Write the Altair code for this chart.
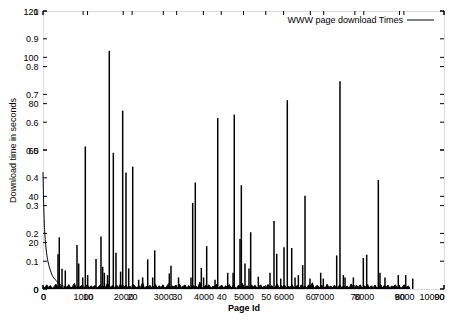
import altair as alt
import pandas as pd

# ---------------- data ----------------
# dense low-level download times (seconds), one reading every 46 page ids
baseline_step = 46
baseline_vals = [
    1.2, 0.4, 1.8, 0.7, 1.5, 0.3, 1.0, 2.1, 0.5, 1.6, 0.9, 0.3, 1.3, 0.6, 1.9, 0.4, 1.1, 2.4, 0.5, 1.2,
    0.8, 1.6, 0.3, 1.0, 1.9, 0.4, 1.4, 0.7, 1.5, 0.3, 0.9, 1.8, 0.5, 1.3, 0.8, 2.6, 0.4, 1.1, 1.5, 0.3,
    1.6, 0.6, 2.2, 0.4, 0.9, 1.7, 0.5, 1.3, 0.3, 1.9, 1.0, 0.5, 1.5, 0.7, 2.8, 0.3, 1.2, 0.8, 1.6, 0.4,
    1.1, 1.9, 0.4, 1.4, 0.6, 1.8, 0.3, 1.0, 2.3, 0.5, 1.3, 0.9, 1.6, 0.3, 2.0, 0.7, 1.2, 1.7, 0.4, 1.5,
    0.4, 1.8, 0.9, 1.3, 0.5, 3.0, 0.7, 0.3, 1.5, 1.1, 1.8, 0.4, 1.2, 0.8, 2.1, 0.5, 1.0, 1.6, 0.3, 1.4,
    0.7, 1.9, 0.4, 1.5, 1.0, 0.3, 1.7, 0.6, 2.5, 0.4, 1.2, 1.3, 0.5, 1.8, 0.9, 1.6, 0.3, 1.0, 1.8, 0.5,
    1.3, 0.4, 2.0, 0.7, 1.5, 0.3, 1.1, 2.2, 0.4, 1.4, 0.9, 1.7, 0.4, 1.2, 0.7, 1.9, 0.5, 1.0, 1.6, 0.3,
    1.8, 0.8, 1.3, 0.4, 1.8, 0.6, 2.7, 0.3, 1.2, 1.5, 0.5, 1.7, 0.9, 0.4, 2.1, 0.7, 1.3, 0.5, 1.7, 0.3,
    1.0, 1.8, 0.4, 1.5, 0.7, 1.3, 0.3, 2.2, 1.1, 0.5, 1.6, 0.8, 1.8, 0.4, 1.2, 0.9, 1.9, 0.4, 1.4, 0.6,
    1.7, 0.3, 1.2, 2.0, 0.5, 1.5, 0.7, 1.7, 0.4, 1.3, 1.0, 1.8, 0.5, 1.5, 0.3, 1.1, 1.8, 0.7, 1.3, 0.4,
]
baseline_ids = [i * baseline_step for i in range(len(baseline_vals))]

# isolated spikes: page id and download time (seconds)
spike_ids = [374, 406, 474, 556, 848, 890, 990, 1055, 1114, 1322, 1446, 1488, 1530, 1610, 1653,
             1754, 1820, 1935, 1987, 2070, 2137, 2237, 2385, 2485, 2611, 2735, 2786, 3150, 3192,
             3380, 3690, 3733, 3798, 3948, 4005, 4082, 4290, 4357, 4606, 4740, 4770, 4913, 4946,
             5037, 5137, 5179, 5369, 5661, 5761, 5828, 5928, 6010, 6092, 6202, 6285, 6368, 6476,
             6534, 6658, 6925, 6990, 7324, 7406, 7490, 7532, 7740, 7988, 8072, 8362, 8404, 8528,
             8860, 9045, 9220]
spike_vals = [15, 22.3, 8.7, 8, 19, 11, 5, 61.5, 6, 13, 22.7, 9.6, 7, 6, 102.8,
              58.8, 15.7, 7.5, 77, 50.3, 8.9, 52.8, 4, 5, 12.8, 5, 16.7, 6.7, 10,
              5, 5, 37.2, 46, 9.1, 5, 18.5, 4, 73.8, 7, 7, 75.3, 21.6, 44.8,
              11, 8.9, 24.5, 5.3, 7, 29.4, 15.2, 4.5, 18, 81.5, 17.7, 5, 6, 10.3,
              40.3, 4.5, 7, 4.5, 14.5, 89.7, 6, 5, 5, 13.4, 14.8, 47.1, 7, 5,
              6, 6, 4.5]

# second curve (secondary axes 0-90 / 0-1)
curve_x = [0, 0.1, 0.2, 0.3, 0.4, 0.6, 0.8, 1.1, 1.4, 1.8, 2.4, 3.0, 3.8, 4.6, 5.5, 7.0]
curve_y = [0.42, 0.34, 0.28, 0.23, 0.20, 0.16, 0.13, 0.10, 0.08, 0.06, 0.04, 0.03, 0.016, 0.01, 0.006, 0.003]

x_ticks = [0, 1000, 2000, 3000, 4000, 5000, 6000, 7000, 8000, 9000, 10000]
x2_ticks = [0, 10, 20, 30, 40, 50, 60, 70, 80, 90]
y_ticks = [0, 20, 40, 60, 80, 100, 120]
y2_ticks = [0, 0.1, 0.2, 0.3, 0.4, 0.5, 0.6, 0.7, 0.8, 0.9, 1]

legend_label = "WWW page download Times"

# ---------------- chart ----------------
W, H = 401, 278
FONT = "Liberation Sans"
FS = 9
TL = 4  # inward tick length

xs = alt.Scale(domain=[0, 10000], nice=False, zero=False)
ys = alt.Scale(domain=[0, 120], nice=False)
x2s = alt.Scale(domain=[0, 90], nice=False, zero=False)
y2s = alt.Scale(domain=[0, 1], nice=False)

lab = dict(labelFont=FONT, labelFontSize=FS, labelColor="black", ticks=False,
           domain=False, grid=False, labelFlush=False, labelOverlap=False)

base_df = pd.DataFrame({"id": baseline_ids, "t": baseline_vals})
spk_df = pd.DataFrame({"id": spike_ids, "t": spike_vals, "z": [0] * len(spike_ids)})
cur_df = pd.DataFrame({"x": curve_x, "y": curve_y})

# the last x label sits at the right edge of the page: keep it inside the picture
edge_align_x = alt.expr("datum.value == 10000 ? 'right' : 'center'")
edge_align_x2 = alt.expr("datum.value == 90 ? 'right' : 'center'")

band = alt.Chart(base_df).mark_area(color="black", opacity=1).encode(
    x=alt.X("id:Q", scale=xs, axis=alt.Axis(orient="bottom", values=x_ticks, format="d",
                                              labelPadding=3, labelAlign=edge_align_x,
                                              title="Page Id", titleFont=FONT,
                                              titleFontSize=FS, titleFontWeight="bold",
                                              titlePadding=2, **lab)),
    y=alt.Y("t:Q", scale=ys, axis=alt.Axis(orient="left", values=y_ticks, format="d",
                                             labelPadding=5, title="Download time in seconds",
                                             titleFont=FONT, titleFontSize=FS,
                                             titleFontWeight="normal", titlePadding=5, **lab)),
)
band_line = alt.Chart(base_df).mark_line(color="black", strokeWidth=1).encode(
    x=alt.X("id:Q", scale=xs, axis=None),
    y=alt.Y("t:Q", scale=ys, axis=None),
)

spikes = alt.Chart(spk_df).mark_rule(color="black", strokeWidth=1.5).encode(
    x=alt.X("id:Q", scale=xs, axis=None),
    y=alt.Y("z:Q", scale=ys, axis=None),
    y2="t:Q",
)

curve = alt.Chart(cur_df).mark_line(color="black", strokeWidth=1, interpolate="monotone").encode(
    x=alt.X("x:Q", scale=x2s, axis=alt.Axis(orient="bottom", values=x2_ticks, format="d",
                                              labelPadding=3, labelAlign=edge_align_x2,
                                              title=None, **lab)),
    y=alt.Y("y:Q", scale=y2s, axis=alt.Axis(orient="left", values=y2_ticks, format=".1~f",
                                              labelPadding=5, title=None, **lab)),
)


def xticks(vals, scale):
    d = pd.DataFrame({"v": vals})
    c = alt.Chart(d).mark_rule(color="black", strokeWidth=1)
    bot = c.encode(x=alt.X("v:Q", scale=scale, axis=None), y=alt.value(H), y2=alt.value(H - TL))
    top = c.encode(x=alt.X("v:Q", scale=scale, axis=None), y=alt.value(0), y2=alt.value(TL))
    return [bot, top]


def yticks(vals, scale):
    d = pd.DataFrame({"v": vals})
    c = alt.Chart(d).mark_rule(color="black", strokeWidth=1)
    left = c.encode(y=alt.Y("v:Q", scale=scale, axis=None), x=alt.value(0), x2=alt.value(TL))
    right = c.encode(y=alt.Y("v:Q", scale=scale, axis=None), x=alt.value(W), x2=alt.value(W - TL))
    return [left, right]


leg_df = pd.DataFrame({"label": [legend_label]})
leg_text = alt.Chart(leg_df).mark_text(align="right", baseline="middle", font=FONT,
                                        fontSize=FS, color="black").encode(
    x=alt.value(360), y=alt.value(9), text="label:N")
leg_line = alt.Chart(leg_df).mark_rule(color="black", strokeWidth=1).encode(
    x=alt.value(364), x2=alt.value(391), y=alt.value(9))

layers = [band, band_line, spikes, curve] + xticks(x_ticks, xs) + xticks(x2_ticks, x2s) \
    + yticks(y_ticks, ys) + yticks(y2_ticks, y2s) + [leg_text, leg_line]

chart = alt.layer(*layers).resolve_scale(x="independent", y="independent").resolve_axis(
    x="independent", y="independent"
).properties(
    width=W, height=H,
    autosize=alt.AutoSizeParams(type="none"),
    padding={"left": 35, "top": 3, "right": 4, "bottom": 24},
).configure_view(stroke="black", strokeWidth=1.2).configure(background="white")

chart.save("out.html", embed_options={"renderer": "svg", "actions": False})
